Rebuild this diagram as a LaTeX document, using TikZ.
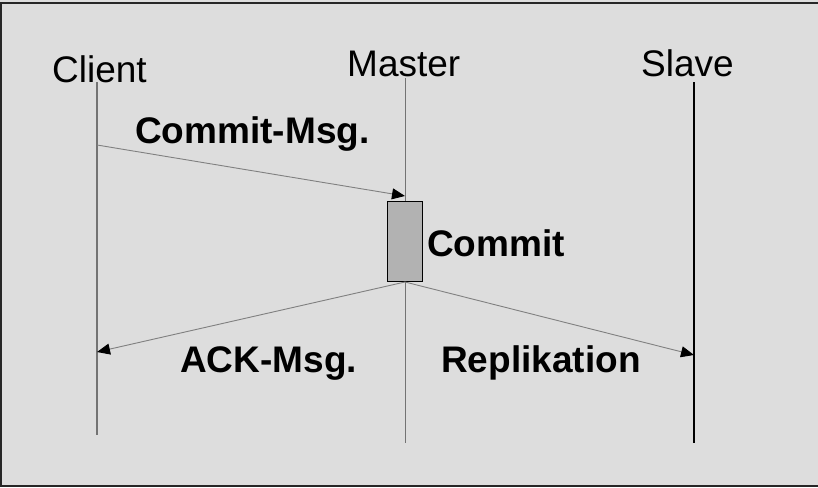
\documentclass[tikz,border=0pt]{standalone}
\usepackage{fontspec}
\setmainfont{Liberation Sans}
\usetikzlibrary{arrows.meta}
\begin{document}
\begin{tikzpicture}[x=1pt,y=-1pt,
  lbl/.style={inner sep=0pt,anchor=base west,font=\fontsize{37}{40}\selectfont},
  blbl/.style={lbl,font=\fontsize{37}{40}\selectfont\bfseries},
  msg/.style={draw=black!50,line width=0.9pt,-{Triangle[length=13pt,width=11pt,color=black]}},
  life/.style={line width=1pt}]
\fill[fill={rgb,255:red,221;green,221;blue,221}] (0,0) rectangle (818,487);
\useasboundingbox (0,0) rectangle (818,487);
\draw[line width=2pt,black!85] (830,3) -- (1,3) -- (1,486) -- (830,486);
% labels
\node[lbl] (client) at (52,82) {Client};
\node[lbl] (master) at (347,76) {Master};
\node[lbl] (slave) at (641,76) {Slave};
% lifelines
\coordinate (c1) at (97,82);  \coordinate (c2) at (97,435);
\coordinate (m1) at (405,78); \coordinate (m2) at (405,443);
\coordinate (s1) at (694,82); \coordinate (s2) at (694,443);
\draw[life,black!55,line width=1.3pt] (c1) -- (c2);
\draw[life,black!55] (m1) -- (m2);
\draw[life,black,line width=1.2pt] (s1) -- (s2);
% commit box
\node[draw=black,line width=1pt,fill={rgb,255:red,178;green,178;blue,178},minimum width=35pt,minimum height=80pt,inner sep=0pt] (box) at (404.5,241) {};
% messages
\coordinate (cm0) at (97,145); \coordinate (cm1) at (405,196);
\coordinate (mb) at (405,282);
\coordinate (ack1) at (97,352); \coordinate (rep1) at (694,355);
\draw[msg] (cm0) -- (cm1);
\draw[msg] (mb) -- (ack1);
\draw[msg] (mb) -- (rep1);
% message labels
\node[blbl] (lcm) at (135,143) {Commit-Msg.};
\node[blbl] (lcommit) at (427,256) {Commit};
\node[blbl] (lack) at (180,372) {ACK-Msg.};
\node[blbl] (lrep) at (441,372) {Replikation};
\end{tikzpicture}
\end{document}
